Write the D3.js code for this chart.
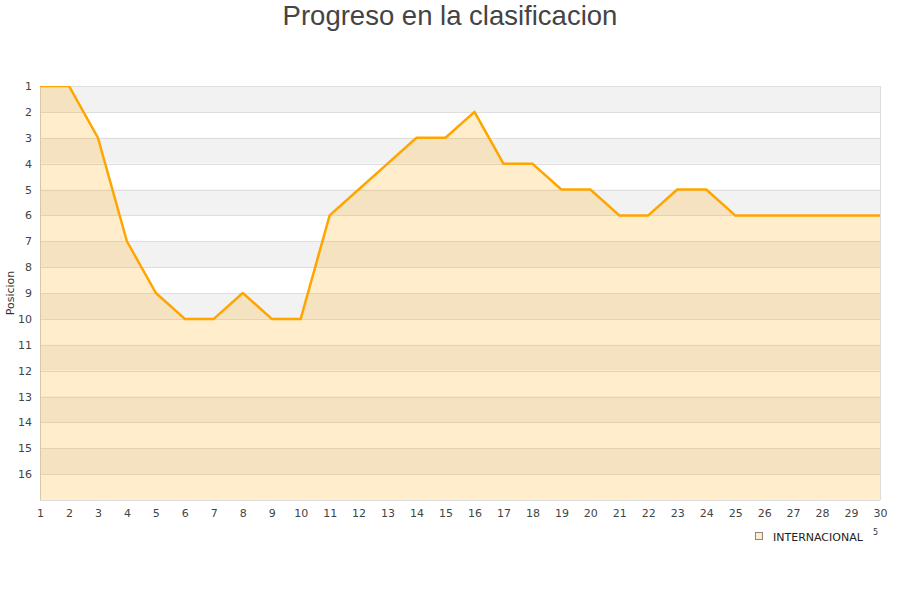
<!DOCTYPE html>
<html>
<head>
<meta charset="utf-8">
<script src="https://cdn.jsdelivr.net/npm/d3@7"></script>
<style>
  html, body { margin: 0; padding: 0; background: #fff; }
  svg { display: block; }
</style>
</head>
<body>
<div id="chart"></div>
<script>
(function() {
    'use strict';

    // data
    var jornadas = d3.range(1, 31);
    var posiciones = [1, 1, 3, 7, 9, 10, 10, 9, 10, 10, 6, 5, 4, 3, 3, 2, 4, 4, 5, 5, 6, 6, 5, 5, 6, 6, 6, 6, 6, 6];
    var yTicks = d3.range(1, 17);
    var serieNombre = 'INTERNACIONAL';
    var titulo = 'Progreso en la clasificacion';

    var width = 900, height = 600;
    var m = { top: 86, right: 20, bottom: 100, left: 40 };

    var svg = d3.select('#chart').append('svg')
                .attr('width', width)
                .attr('height', height);

    var x = d3.scaleLinear().domain([1, 30]).range([m.left, width - m.right]);
    var y = d3.scaleLinear().domain([1, 17]).range([m.top, height - m.bottom]);

    // title
    svg.append('text')
        .attr('x', width / 2)
        .attr('y', 25)
        .attr('text-anchor', 'middle')
        .style('font-family', '"Liberation Sans", Arial, sans-serif')
        .style('font-size', '27.5px')
        .style('fill', '#444')
        .text(titulo);

    // background bands
    var bands = d3.range(1, 17);
    svg.append('g').selectAll('rect')
        .data(bands)
        .enter().append('rect')
        .attr('x', x(1))
        .attr('y', function(d) { return y(d); })
        .attr('width', x(30) - x(1))
        .attr('height', function(d) { return y(d + 1) - y(d); })
        .style('fill', function(d) { return d % 2 === 1 ? '#f2f2f2' : '#ffffff'; });

    // grid
    svg.append('g').selectAll('line')
        .data(d3.range(1, 18))
        .enter().append('line')
        .attr('x1', x(1)).attr('x2', x(30))
        .attr('y1', function(d) { return Math.round(y(d)) + 0.5; })
        .attr('y2', function(d) { return Math.round(y(d)) + 0.5; })
        .style('stroke', '#dedede')
        .style('stroke-width', 1);

    // border right / left
    svg.append('line')
        .attr('x1', x(30) + 0.5).attr('x2', x(30) + 0.5)
        .attr('y1', y(1)).attr('y2', y(17))
        .style('stroke', '#dcdcdc');
    svg.append('line')
        .attr('x1', x(1) + 0.5).attr('x2', x(1) + 0.5)
        .attr('y1', y(1)).attr('y2', y(17))
        .style('stroke', '#d0d0d0');

    svg.append('clipPath').attr('id', 'plot-clip')
        .append('rect')
        .attr('x', x(1)).attr('y', y(1))
        .attr('width', x(30) - x(1))
        .attr('height', y(17) - y(1));

    var pts = jornadas.map(function(j, i) { return [j, posiciones[i]]; });

    var area = d3.area()
        .x(function(d) { return x(d[0]); })
        .y0(y(17))
        .y1(function(d) { return y(d[1]); });

    var line = d3.line()
        .x(function(d) { return x(d[0]); })
        .y(function(d) { return y(d[1]); });

    var g = svg.append('g').attr('clip-path', 'url(#plot-clip)');
    g.append('path')
        .datum(pts)
        .attr('d', area)
        .style('fill', 'rgba(255,165,0,0.2)');
    g.append('path')
        .datum(pts)
        .attr('d', line)
        .style('fill', 'none')
        .style('stroke', '#ffa500')
        .style('stroke-width', 2.5)
        .style('stroke-linejoin', 'round');

    // axes
    var tickFont = 'DejaVu Sans, sans-serif';
    var yAxis = svg.append('g')
        .attr('transform', 'translate(' + (m.left - 8) + ',0)')
        .call(d3.axisLeft(y).tickValues(yTicks).tickSize(0).tickPadding(0).tickFormat(d3.format('d')));
    yAxis.select('.domain').remove();
    yAxis.selectAll('text')
        .style('font-family', tickFont)
        .style('font-size', '11px')
        .style('fill', '#444');

    var xAxis = svg.append('g')
        .attr('transform', 'translate(0,' + (y(17) + 9) + ')')
        .call(d3.axisBottom(x).tickValues(jornadas).tickSize(0).tickPadding(0).tickFormat(d3.format('d')));
    xAxis.select('.domain').remove();
    xAxis.selectAll('text')
        .attr('dy', '0.71em')
        .style('font-family', tickFont)
        .style('font-size', '11px')
        .style('fill', '#444');

    // y label
    svg.append('text')
        .attr('transform', 'translate(14,' + ((y(1) + y(17)) / 2) + ') rotate(-90)')
        .attr('text-anchor', 'middle')
        .style('font-family', tickFont)
        .style('font-size', '11px')
        .style('fill', '#333')
        .text('Posicion');

    // legend
    var leg = svg.append('g').attr('transform', 'translate(755,532)');
    leg.append('rect')
        .attr('x', 0.5).attr('y', 0.5)
        .attr('width', 7).attr('height', 7)
        .style('fill', '#ffedcc')
        .style('stroke', '#888')
        .style('stroke-width', 1);
    leg.append('text')
        .attr('x', 18).attr('y', 8.5)
        .style('font-family', tickFont)
        .style('font-size', '11px')
        .style('fill', '#222')
        .text(serieNombre);
    leg.append('text')
        .attr('x', 118).attr('y', 3)
        .style('font-family', tickFont)
        .style('font-size', '8px')
        .style('fill', '#333')
        .text('5');
})();
</script>
</body>
</html>
